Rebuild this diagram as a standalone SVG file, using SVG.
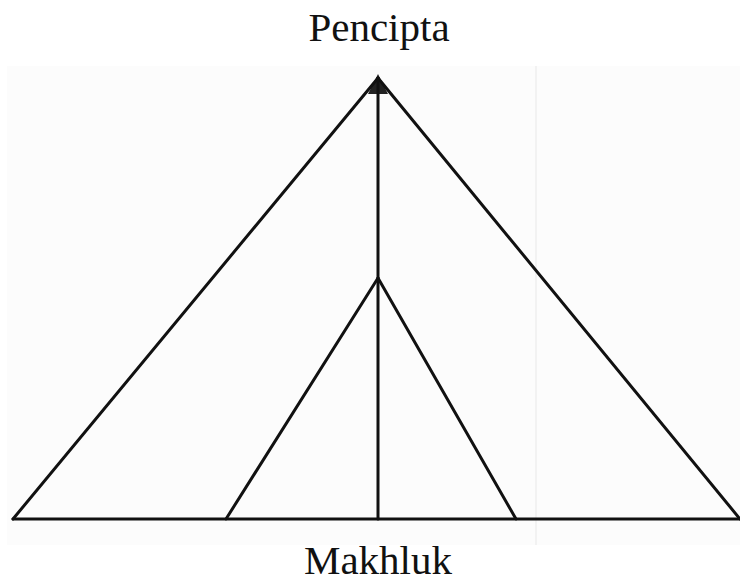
<svg xmlns="http://www.w3.org/2000/svg" width="740" height="584" viewBox="0 0 740 584">
<style>
.ln{stroke:#111;stroke-width:3;fill:none;stroke-linecap:round}
.lbl{font-family:"Liberation Serif","DejaVu Serif",serif;font-size:41px;fill:#111;text-anchor:middle}
</style>
<rect width="740" height="584" fill="#fff"/>
<rect x="7" y="66" width="733" height="479" fill="#fcfcfc"/>
<line x1="536" y1="66" x2="536" y2="545" stroke="#efefef" stroke-width="1.5"/>
<g id="pencipta"><text class="lbl" x="379" y="41">Pencipta</text>
<polygon points="378,74 368,94 388,94" fill="#222"/></g>
<g id="makhluk"><text class="lbl" x="378" y="574">Makhluk</text></g>
<g id="connectors">
<line class="ln" x1="378" y1="78" x2="13" y2="519"/>
<line class="ln" x1="378" y1="78" x2="740" y2="519"/>
<line class="ln" x1="378" y1="78" x2="378" y2="519"/>
<line class="ln" x1="378" y1="278" x2="226" y2="519"/>
<line class="ln" x1="378" y1="278" x2="516" y2="519"/>
<line class="ln" x1="13" y1="519" x2="740" y2="519"/>
</g>
</svg>
